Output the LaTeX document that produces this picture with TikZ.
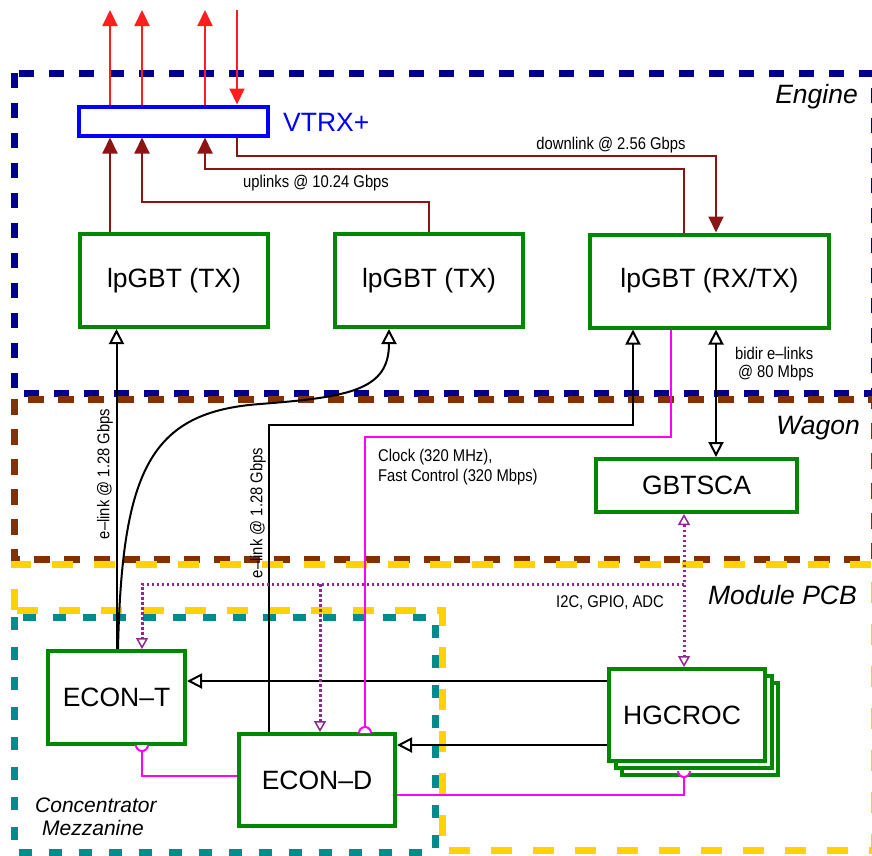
\documentclass[tikz,border=0pt]{standalone}
\usepackage{fontspec}
\setmainfont{Liberation Sans}
\newfontfamily\narrowfont[FakeStretch=0.87,Ligatures=TeX]{Liberation Sans}
\usetikzlibrary{arrows.meta}
\definecolor{navyc}{RGB}{0,0,140}
\definecolor{brownc}{RGB}{130,50,0}
\definecolor{yellowc}{RGB}{255,210,0}
\definecolor{tealc}{RGB}{0,140,140}
\definecolor{greenc}{RGB}{0,135,0}
\definecolor{maroonc}{RGB}{140,20,20}
\definecolor{redc}{RGB}{255,30,30}
\definecolor{magc}{RGB}{255,0,255}
\definecolor{purpc}{RGB}{145,40,145}
\definecolor{bluec}{RGB}{0,0,255}
\pgfdeclarelayer{bg}
\pgfdeclarelayer{conn}
\pgfsetlayers{bg,conn,main}
\begin{document}
\begin{tikzpicture}[x=1pt,y=-1pt,
  region/.style={line width=7pt},
  box/.style={draw=greenc, line width=4pt, fill=white, inner sep=0pt, font=\fontsize{26.5}{30}\selectfont},
  small/.style={font=\narrowfont\fontsize{17}{19}\selectfont, inner sep=0pt},
  biglab/.style={font=\itshape\fontsize{26.5}{30}\selectfont, inner sep=0pt},
  cmzlab/.style={font=\itshape\fontsize{21}{18}\selectfont, anchor=west, inner sep=0pt},
  redar/.style={redc, line width=2pt, -{Triangle[length=16pt,width=15pt]}},
  upl/.style={maroonc, line width=2pt, -{Triangle[length=16pt,width=15pt]}},
  blk/.style={black, line width=2pt, -{Triangle[open,length=15pt,width=15pt]}},
  blkboth/.style={black, line width=2pt, {Triangle[open,length=15pt,width=15pt]}-{Triangle[open,length=15pt,width=15pt]}},
  mag/.style={magc, line width=2pt},
  pdot/.style={purpc, line width=3pt, dash pattern=on 2.5pt off 2.5pt},
  ptip/.style={-{Triangle[open,length=11pt,width=12pt,line width=1.5pt]}},
  ptipboth/.style={{Triangle[open,length=11pt,width=12pt,line width=1.5pt]}-{Triangle[open,length=11pt,width=12pt,line width=1.5pt]}},
]
\useasboundingbox (0,0) rectangle (872,855);

% regions
\begin{pgfonlayer}{bg}
\draw[region, navyc, dash pattern=on 15pt off 15pt] (14,73) rectangle (874,393);
\draw[region, brownc, dash pattern=on 16pt off 14pt] (14,399) rectangle (874,559);
\draw[region, yellowc, dash pattern=on 21pt off 21pt] (14,610) -- (14,564) -- (874,564) -- (874,850) -- (442,850) -- (442,610) -- cycle;
\draw[region, tealc, dash pattern=on 13pt off 17pt] (14,617) rectangle (435,852);
\end{pgfonlayer}

% nodes
\node[box, draw=bluec, minimum width=189pt, minimum height=29pt] (vtrx) at (173.5,121) {};
\node[box, minimum width=188pt, minimum height=93pt] (lp1) at (174,280.5) {lpGBT (TX)};
\node[box, minimum width=188pt, minimum height=93pt] (lp2) at (429,280.5) {lpGBT (TX)};
\node[box, minimum width=239pt, minimum height=93pt] (lp3) at (709.5,281) {lpGBT (RX/TX)};
\node[box, minimum width=201pt, minimum height=53pt] (sca) at (696.5,485.5) {GBTSCA};
\node[box, minimum width=137pt, minimum height=93pt] (econt) at (116.5,697.5) {ECON–T};
\node[box, minimum width=156pt, minimum height=92pt] (econd) at (317,780) {ECON–D};
\node[box, minimum width=156pt, minimum height=92pt] (hg3) at (700,729) {};
\node[box, minimum width=156pt, minimum height=92pt] (hg2) at (693.5,722) {};
\node[box, minimum width=156pt, minimum height=92pt] (hg1) at (687,715) {HGCROC\hspace*{10pt}};

% coordinates
\coordinate (r1) at (110,10);
\coordinate (r2) at (142,10);
\coordinate (r3) at (205,10);
\coordinate (r4) at (237,10);
\coordinate (u2) at (142,202);
\coordinate (u3) at (205,169);
\coordinate (d1) at (716,156);
\coordinate (b3) at (633,425);
\coordinate (bd) at (716,400);
\coordinate (h1) at (600,681);
\coordinate (h2) at (600,745);
\coordinate (m1) at (365,437);
\coordinate (m2) at (142,776);
\coordinate (m3) at (684,795);
\coordinate (hgc) at (684,771);
\coordinate (p1) at (684,584);
\coordinate (p3) at (320,584);

\begin{pgfonlayer}{conn}
% red optical links
\draw[redar] (vtrx.north -| r1) -- (r1);
\draw[redar] (vtrx.north -| r2) -- (r2);
\draw[redar] (vtrx.north -| r3) -- (r3);
\draw[redar] (r4) -- (vtrx.north -| r4);
% uplinks / downlink
\draw[upl] (lp1.north -| r1) -- (vtrx.south -| r1);
\draw[upl] (lp2.north) |- (u2) -- (vtrx.south -| u2);
\draw[upl] ([xshift=-25.5pt]lp3.north) |- (u3) -- (vtrx.south -| u3);
\draw[upl] (vtrx.south -| r4) |- (d1) -- (lp3.north -| d1);
% e-links
\draw[blk] (econt.north) -- (econt.north |- lp1.south);
\draw[blk] ([xshift=1.5pt]econt.north) .. controls (122,470) and (150,412) .. (260,404) .. controls (350,397) and (389,390) .. ([xshift=-40pt]lp2.south);
\draw[blk] ([xshift=-48pt]econd.north) |- (b3) -- (lp3.south -| b3);
\draw[blkboth] (lp3.south -| bd) -- (sca.north -| bd);
\draw[blk] (hg1.west |- h1) -- (econt.east |- h1);
\draw[blk] (hg1.west |- h2) -- (econd.east |- h2);
% clock / fast control
\draw[mag] ([xshift=-38.5pt]lp3.south) |- (m1) -- (econd.north -| m1);
\draw[mag] (econt.south -| m2) -- (m2) -- (econd.west |- m2);
\draw[mag] (econd.east |- m3) -- (m3) -- (hgc);
% slow control
\draw[pdot, ptipboth] (sca.south -| p1) -- (hg1.north -| p1);
\draw[pdot, ptip] (p1) -| (econt.north -| m2);
\draw[pdot, ptip] (p3) -- (econd.north -| p3);
\end{pgfonlayer}

% half-circle ends
\draw[mag, fill=white] (359,733) .. controls (359,729.7) and (361.7,727) .. (365,727) .. controls (368.3,727) and (371,729.7) .. (371,733);
\draw[mag, fill=white] (136,745) .. controls (136,748.3) and (138.7,751) .. (142,751) .. controls (145.3,751) and (148,748.3) .. (148,745);
\draw[mag, fill=white] (678,771) .. controls (678,774.3) and (680.7,777) .. (684,777) .. controls (687.3,777) and (690,774.3) .. (690,771);

% labels
\node[anchor=west, inner sep=0pt, text=bluec, font=\fontsize{26.5}{30}\selectfont] (vlab) at (283,122) {VTRX+};
\node[biglab, anchor=east] (eng) at (858,97) {Engine};
\node[biglab, anchor=east] (wag) at (860,428) {Wagon};
\node[biglab, anchor=east] (mpcb) at (857,595) {Module PCB};
\node[cmzlab] (cmz1) at (35,805) {Concentrator};
\node[cmzlab] (cmz2) at (42,828) {Mezzanine};
\node[small] (dl) at (611,145) {downlink @ 2.56 Gbps};
\node[small] (ul) at (316,183) {uplinks @ 10.24 Gbps};
\node[small, anchor=west, align=left, font=\narrowfont\fontsize{17}{18}\selectfont] (bid) at (735,364) {bidir e–links\\\,@ 80 Mbps};
\node[small, anchor=west, align=left, font=\narrowfont\fontsize{17}{19.5}\selectfont] (clk) at (378,467) {Clock (320 MHz),\\Fast Control (320 Mbps)};
\node[small] (i2c) at (610,603) {I2C, GPIO, ADC};
\node[small, rotate=90] (el1) at (105,474) {e–link @ 1.28 Gbps};
\node[small, rotate=90] (el2) at (258,513) {e–link @ 1.28 Gbps};
\end{tikzpicture}
\end{document}
